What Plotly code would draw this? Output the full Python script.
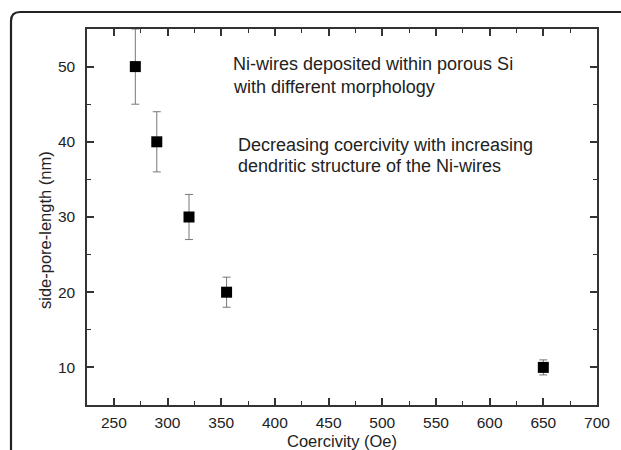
import plotly.graph_objects as go

coercivity = [270, 290, 320, 355, 650]
side_pore_length = [50, 40, 30, 20, 10]
error_nm = [5, 4, 3, 2, 1]

x_ticks = [250, 300, 350, 400, 450, 500, 550, 600, 650, 700]
y_ticks = [10, 20, 30, 40, 50]

x_title = "Coercivity (Oe)"
y_title = "side-pore-length (nm)"

note_lines = [
    ("Ni-wires deposited within porous Si", 231, 64),
    ("with different morphology", 231, 87),
    ("Decreasing coercivity with increasing", 235.5, 145),
    ("dendritic structure of the Ni-wires", 235.5, 166),
]

W, H = 621, 450
L, R, T, B = 87, 24, 29, 45
PW, PH = W - L - R, H - T - B

def px(x):
    return (x - L) / PW

def py(y):
    return 1 - (y - T) / PH

FONT = "Liberation Sans, Arial, sans-serif"
TXT = "#222222"

fig = go.Figure()
fig.add_trace(go.Scatter(
    x=coercivity, y=side_pore_length, mode="markers",
    marker=dict(symbol="square", size=11, color="black"),
    error_y=dict(type="data", array=error_nm, visible=True,
                 color="#777777", thickness=1, width=4),
    showlegend=False,
))

axis_common = dict(
    showline=True, linecolor="#333333", linewidth=1.5, mirror="ticks",
    ticks="inside", ticklen=7, tickwidth=1.5, tickcolor="#333333",
    showgrid=False, zeroline=False, automargin=False,
    tickfont=dict(family=FONT, size=15.5, color=TXT),
)

fig.update_xaxes(
    range=[225, 700], tickvals=x_ticks,
    minor=dict(ticks="inside", dtick=25, tick0=0, ticklen=4, tickwidth=1.2, tickcolor="#333333"),
    ticklabelstandoff=3,
    **axis_common,
)
fig.update_yaxes(
    range=[5, 55], tickvals=y_ticks,
    minor=dict(ticks="inside", dtick=5, tick0=0, ticklen=4, tickwidth=1.2, tickcolor="#333333"),
    ticklabelstandoff=7,
    **axis_common,
)

fig.add_annotation(
    text=x_title, xref="paper", yref="paper", x=px(342), y=py(441),
    xanchor="center", yanchor="middle", showarrow=False,
    font=dict(family=FONT, size=16.5, color=TXT),
)
fig.add_annotation(
    text=y_title, xref="paper", yref="paper", x=px(45), y=py(230),
    xanchor="center", yanchor="middle", showarrow=False, textangle=-90,
    font=dict(family=FONT, size=16.5, color=TXT),
)

for text, xl, yc in note_lines:
    fig.add_annotation(
        text=text, xref="paper", yref="paper", x=px(xl), y=py(yc),
        xanchor="left", yanchor="middle", align="left", showarrow=False,
        font=dict(family=FONT, size=18, color=TXT),
    )

# rounded outer frame (top-left corner of the panel)
path = (f"M {px(11)},{py(470)} L {px(11)},{py(21)} "
        f"Q {px(11)},{py(12)} {px(20)},{py(12)} L {px(640)},{py(12)}")
fig.add_shape(type="path", path=path, xref="paper", yref="paper",
              line=dict(color="#222222", width=2.2), layer="above")

fig.update_layout(
    width=W, height=H,
    margin=dict(l=L, r=R, t=T, b=B),
    paper_bgcolor="white", plot_bgcolor="white",
    font=dict(family=FONT),
)

fig.write_html("out.html", config={"displayModeBar": False},
               post_script="document.body.style.margin='0';")
